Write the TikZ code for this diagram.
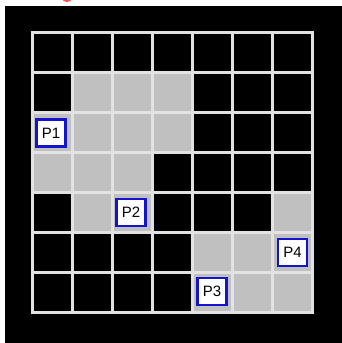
\documentclass[tikz,border=0pt]{standalone}
\usepackage{fontspec}
\setmainfont{Liberation Sans}
\definecolor{cellgray}{RGB}{192,192,192}
\definecolor{linegray}{RGB}{226,226,226}
\definecolor{tagblue}{RGB}{20,20,205}
\begin{document}
\begin{tikzpicture}[x=1pt,y=-1pt,line cap=rect,line join=miter,
 tag/.style={draw=tagblue,line width=2.5pt,fill=white,inner sep=0pt,
  minimum width=29pt,minimum height=27pt,font=\fontsize{15}{17}\selectfont}]
 \useasboundingbox (0,0) rectangle (342,343);
 \fill[white] (0,0) rectangle (342,343);
 \fill[red!70] (67,-2) ellipse[x radius=5,y radius=4];
 \fill[black] (4.5,6) rectangle (342,343);
 % gray cells (column,row)
 \foreach \c/\r in {1/1,2/1,3/1,0/2,1/2,2/2,3/2,0/3,1/3,2/3,1/4,2/4,6/4,
  4/5,5/5,6/5,4/6,5/6,6/6}
  \fill[cellgray] (32.5+40*\c,32.5+40*\r) rectangle ++(40,40);
 % grid
 \foreach \k in {0,...,7}{
  \draw[linegray,line width=3pt] (32.5+40*\k,32.5)--(32.5+40*\k,312.5);
  \draw[linegray,line width=3pt] (32.5,32.5+40*\k)--(312.5,32.5+40*\k);
 }
 \node[tag] (p1) at (51,133) {P1};
 \node[tag] (p2) at (131,212.5) {P2};
 \node[tag] (p3) at (212,291.5) {P3};
 \node[tag] (p4) at (292.5,252.5) {P4};
\end{tikzpicture}
\end{document}
